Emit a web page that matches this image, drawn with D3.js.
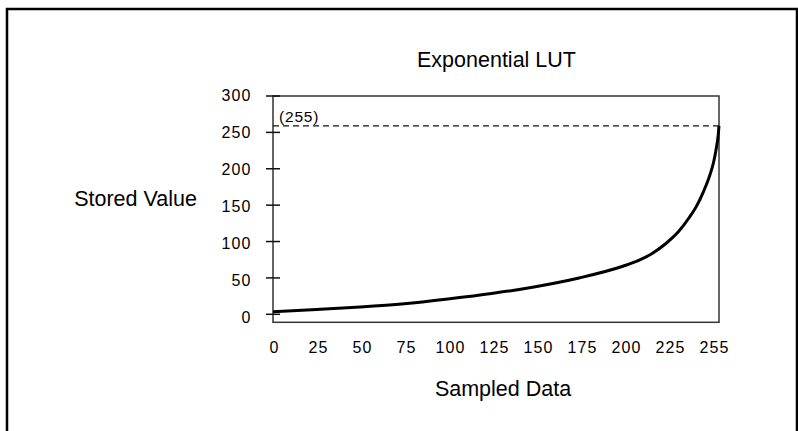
<!DOCTYPE html>
<html><head><meta charset="utf-8">
<script src="https://cdn.jsdelivr.net/npm/d3@7"></script>
<style>
html,body{margin:0;padding:0;background:#fff;}
svg text{font-family:"Liberation Sans",Arial,sans-serif;fill:#000;}
</style></head>
<body><svg id="c" width="798" height="431"></svg>
<script>
const title = "Exponential LUT";
const xLabel = "Sampled Data";
const yLabel = "Stored Value";
const xTicks = [0,25,50,75,100,125,150,175,200,225,255];
const yTicks = [0,50,100,150,200,250,300];
const refValue = 259;
const refLabel = "(255)";
// curve samples
const sampleX = [0,25,50,75,100,125,150,175,200,210,217,225,232,238,242,246,250,252,253.5,254.5,255];
const sampleY = [3.5,6.5,10,14.5,21,28.5,38,50,66,75,84,98,114,133,148,168,193,210,229,245,259];

const svg = d3.select("#c");
const x = d3.scaleLinear().domain([0,255]).range([273,719]);
const y = d3.scaleLinear().domain([0,300]).range([314.3,96]);
const xLab = d3.scalePoint().domain(xTicks).range([274,714]);
const yLab = d3.scaleLinear().domain([0,300]).range([317.3,95.5]);

// outer frame
svg.append("rect").attr("x",7).attr("y",9).attr("width",790).attr("height",440)
  .attr("fill","none").attr("stroke","#000").attr("stroke-width",2.5);

// plot box
svg.append("rect").attr("x",x(0)).attr("y",y(300)).attr("width",x(255)-x(0)).attr("height",y(0)+8-y(300))
  .attr("fill","none").attr("stroke","#333").attr("stroke-width",1.5);

// y axis ticks
const ya = svg.append("g");
ya.selectAll("line.t").data(yTicks).join("line").attr("class","t")
  .attr("x1",x(0)-7).attr("x2",x(0)+7).attr("y1",d=>y(d)).attr("y2",d=>y(d))
  .attr("stroke","#111").attr("stroke-width",1.5);
ya.selectAll("text").data(yTicks).join("text")
  .attr("x",x(0)-21.5).attr("y",d=>yLab(d)).attr("dy","0.36em").attr("text-anchor","end")
  .attr("font-size",16).attr("letter-spacing","1.1px").text(d=>d);

// x tick labels
svg.selectAll("text.xt").data(xTicks).join("text").attr("class","xt")
  .attr("x",d=>xLab(d)+0.5).attr("y",353).attr("text-anchor","middle").attr("font-size",16)
  .attr("letter-spacing","1.1px").text(d=>d);

// reference dashed line
svg.append("line").attr("x1",x(0)).attr("x2",x(255)).attr("y1",y(refValue)).attr("y2",y(refValue))
  .attr("stroke","#111").attr("stroke-width",1.3).attr("stroke-dasharray","6,4");
svg.append("text").attr("x",x(0)+6).attr("y",y(refValue)-4).attr("font-size",15.5)
  .attr("letter-spacing","0.8px").text(refLabel);

// curve
const data = sampleX.map((v,i)=>({x:v,y:sampleY[i]}));
svg.append("path").datum(data).attr("fill","none").attr("stroke","#000").attr("stroke-width",3)
  .attr("d", d3.line().x(d=>x(d.x)).y(d=>y(d.y)).curve(d3.curveMonotoneX));

// titles
svg.append("text").attr("x",496.5).attr("y",67).attr("text-anchor","middle").attr("font-size",21.5).text(title);
svg.append("text").attr("x",135.5).attr("y",206).attr("text-anchor","middle").attr("font-size",21.5).text(yLabel);
svg.append("text").attr("x",503).attr("y",396).attr("text-anchor","middle").attr("font-size",21.5).text(xLabel);
</script></body></html>
